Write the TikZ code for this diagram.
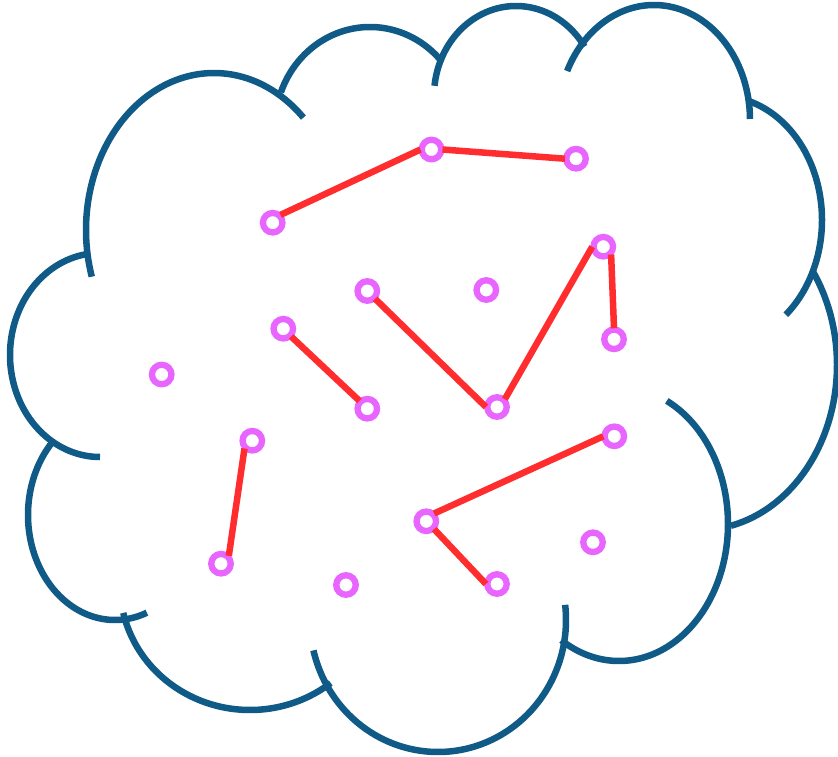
\documentclass[tikz,border=0pt]{standalone}
\definecolor{cloudblue}{HTML}{0F5A87}
\definecolor{linkred}{HTML}{FF2D2D}
\definecolor{ringpink}{HTML}{E866FF}
\tikzset{
  cloudline/.style={draw=cloudblue, line width=6.5pt},
  ring/.style={circle, draw=ringpink, fill=white, line width=6.3pt, minimum size=19.5pt, inner sep=0pt, outer sep=1.3pt},
  link/.style={draw=linkred, line width=6.5pt}
}
\newcommand\lobe[6]{\draw[cloudline] plot[domain=#5:#6,samples=120,variable=\t] ({#1+#3*cos(\t)},{#2+#4*sin(\t)});}
\begin{document}
\begin{tikzpicture}[x=1pt,y=-1pt]
\useasboundingbox (0,0) rectangle (838,757);
% cloud lobes: cx, cy, rx, ry, start, end
\lobe{214}{230}{128}{157}{162.7}{314.3}
\lobe{370}{127}{95}{100}{200.3}{319}
\lobe{516}{96}{82}{90}{186.5}{326.7}
\lobe{654}{120}{96}{115}{205.2}{359.5}
\lobe{720}{220}{102}{124}{285.3}{409.8}
\lobe{700}{365}{137}{165}{-35.1}{77}
\lobe{619}{524}{109}{137}{-64}{122}
\lobe{438}{620}{128}{132}{-6.6}{166.7}
\lobe{250}{585}{130}{125}{51.6}{167.1}
\lobe{115}{515}{87}{105}{68.5}{224.8}
\lobe{100}{355}{90}{102}{90}{262.3}
% nodes
\node[ring] (n1) at (272.7,222.7) {};
\node[ring] (n2) at (431.5,149.5) {};
\node[ring] (n3) at (576,158.7) {};
\node[ring] (n4) at (603.3,246.7) {};
\node[ring] (n5) at (614,339.3) {};
\node[ring] (n6) at (486.3,290) {};
\node[ring] (n7) at (367.3,291) {};
\node[ring] (n8) at (283.3,328.7) {};
\node[ring] (n9) at (161.7,374.5) {};
\node[ring] (n10) at (367.3,408.7) {};
\node[ring] (n11) at (497,407) {};
\node[ring] (n12) at (614.3,436.3) {};
\node[ring] (n13) at (426.3,521.3) {};
\node[ring] (n14) at (593,542.3) {};
\node[ring] (n15) at (497,584) {};
\node[ring] (n16) at (252.3,440.7) {};
\node[ring] (n17) at (221,563.7) {};
\node[ring] (n18) at (346,585) {};
% links
\draw[link] (n1.north east) -- (n2.west);
\draw[link] (n2.east) -- (n3.west);
\draw[link] (n8.south east) -- (n10.north west);
\draw[link] (n7.south east) -- (n11.west);
\draw[link] (n11.north east) -- (n4.west);
\draw[link] (n4.south east) -- (n5.north);
\draw[link] (n13.north east) -- (n12.west);
\draw[link] (n13.south east) -- (n15.west);
\draw[link] (n16.south west) -- (n17.north east);
\end{tikzpicture}
\end{document}
